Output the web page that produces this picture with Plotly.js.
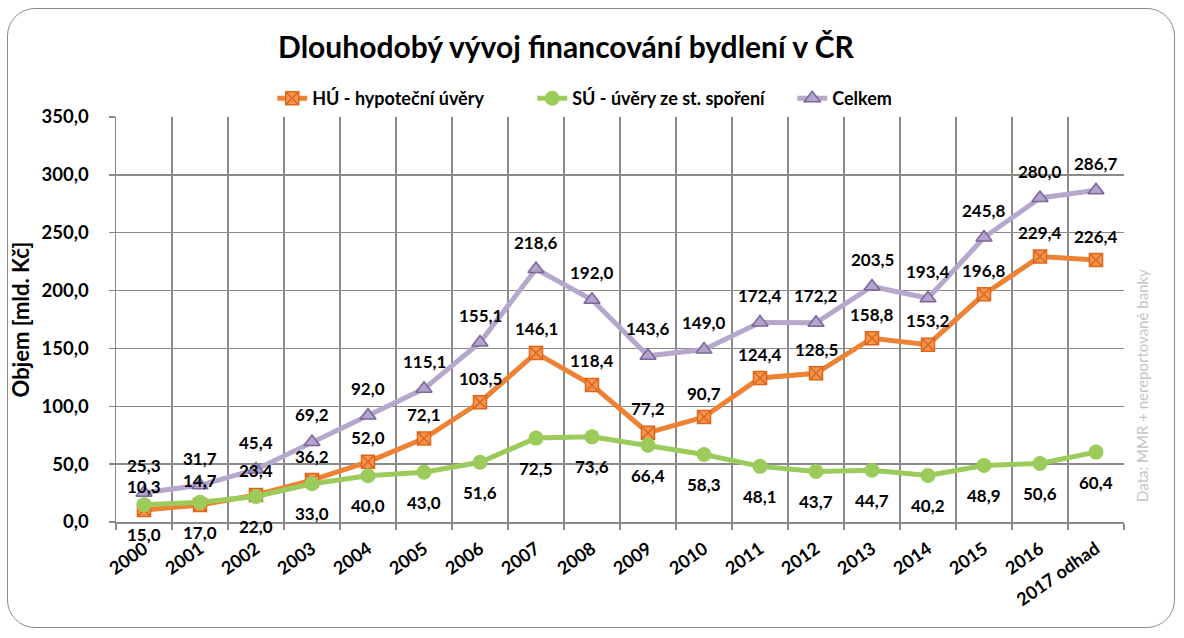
<!DOCTYPE html>
<html>
<head>
<meta charset="utf-8">
<script src="https://cdn.plot.ly/plotly-3.0.1.min.js"></script>
<style>
  html, body { margin: 0; padding: 0; background: #fff; }
  #wrap { position: relative; width: 1184px; height: 638px; }
  #chart { width: 1184px; height: 638px; }
  #frame { position: absolute; left: 7px; top: 8px; width: 1168px; height: 620px;
           border: 1.5px solid #8a8a8a; border-radius: 28px; pointer-events: none; box-sizing: border-box; }
</style>
</head>
<body>
<div id="wrap">
  <div id="chart"></div>
  <div id="frame"></div>
</div>
<script>
const categories = ["2000","2001","2002","2003","2004","2005","2006","2007","2008","2009","2010","2011","2012","2013","2014","2015","2016","2017 odhad"];
const huValues = [10.3,14.7,23.4,36.2,52.0,72.1,103.5,146.1,118.4,77.2,90.7,124.4,128.5,158.8,153.2,196.8,229.4,226.4];
const suValues = [15.0,17.0,22.0,33.0,40.0,43.0,51.6,72.5,73.6,66.4,58.3,48.1,43.7,44.7,40.2,48.9,50.6,60.4];
const celkemValues = [25.3,31.7,45.4,69.2,92.0,115.1,155.1,218.6,192.0,143.6,149.0,172.4,172.2,203.5,193.4,245.8,280.0,286.7];
const seriesNames = ["HÚ - hypoteční úvěry", "SÚ - úvěry ze st. spoření", "Celkem"];
const yTickVals = [0,50,100,150,200,250,300,350];

const FONT = "Lato, 'Open Sans', sans-serif";
const fmt = v => v.toFixed(1).replace('.', ',');

const traces = [
  { x: categories, y: huValues, name: seriesNames[0], type: 'scatter', mode: 'lines+markers',
    line: { color: '#EE8234', width: 5 },
    marker: { symbol: 'square-x', size: 13, color: '#F29650', line: { color: '#E0651A', width: 1.5 } } },
  { x: categories, y: suValues, name: seriesNames[1], type: 'scatter', mode: 'lines+markers',
    line: { color: '#9BCB5A', width: 5 },
    marker: { symbol: 'circle', size: 15, color: '#9BCB5A' } },
  { x: categories, y: celkemValues, name: seriesNames[2], type: 'scatter', mode: 'lines+markers',
    line: { color: '#B6A7CC', width: 5 },
    marker: { symbol: 'triangle-up', size: 14, color: '#B3A2CB', line: { color: '#7A6699', width: 1.5 } } }
];

const annotations = [];
function addLabels(values, shift) {
  values.forEach((v, i) => annotations.push({
    x: i, y: v, xref: 'x', yref: 'y', text: fmt(v), showarrow: false,
    yshift: shift, font: { family: FONT, size: 17, color: '#000', weight: 'bold' }
  }));
}
addLabels(celkemValues, 27);
addLabels(huValues, 24);
addLabels(suValues, -30);

annotations.push({
  text: 'Data: MMR + nereportované banky', xref: 'paper', yref: 'paper',
  x: 1.0, xshift: 18, y: 0.336, textangle: -90, showarrow: false, xanchor: 'center', yanchor: 'middle',
  font: { family: FONT, size: 15, color: '#C4C4C4' }
});

const layout = {
  width: 1184, height: 638,
  margin: { l: 116, r: 60, t: 117, b: 116 },
  paper_bgcolor: 'rgba(0,0,0,0)', plot_bgcolor: '#fff',
  separators: ', ',
  font: { family: FONT, color: '#000' },
  title: { text: 'Dlouhodobý vývoj financování bydlení v ČR', x: 0.478, xref: 'container', y: 0.926, yref: 'container',
           xanchor: 'center', yanchor: 'middle', font: { family: FONT, size: 30, weight: 'bold', color: '#000' } },
  showlegend: true,
  legend: { orientation: 'h', x: 0.155, xanchor: 'left', y: 1.0, yanchor: 'bottom',
            entrywidth: 215, entrywidthmode: 'pixels',
            font: { family: FONT, size: 18, weight: 'bold' }, bgcolor: 'rgba(0,0,0,0)', itemwidth: 30, tracegroupgap: 0 },
  xaxis: {
    type: 'category', range: [-0.5, categories.length - 0.5],
    tickson: 'boundaries', ticks: 'outside', ticklen: 6, tickcolor: '#8a8a8a', tickwidth: 1.5,
    showgrid: true, gridcolor: '#8a8a8a', gridwidth: 1.5,
    showline: true, linecolor: '#8a8a8a', linewidth: 1.5, mirror: false,
    tickangle: -35, tickfont: { family: FONT, size: 18, weight: 'bold' }, ticklabelstandoff: 8,
    zeroline: false, fixedrange: true
  },
  yaxis: {
    range: [0, 350], tickvals: yTickVals, tickformat: '.1f',
    ticks: 'outside', ticklen: 6, tickcolor: '#8a8a8a', tickwidth: 1.5,
    showgrid: true, gridcolor: '#8a8a8a', gridwidth: 1.5,
    showline: true, linecolor: '#8a8a8a', linewidth: 1.5, zeroline: false,
    tickfont: { family: FONT, size: 18.5, weight: 'bold' }, ticklabelstandoff: 16,
    title: { text: 'Objem [mld. Kč]', font: { family: FONT, size: 22, weight: 'bold' }, standoff: 6 },
    fixedrange: true
  },
  annotations: annotations
};

Plotly.newPlot('chart', traces, layout, { displayModeBar: false, staticPlot: true });
</script>
</body>
</html>
